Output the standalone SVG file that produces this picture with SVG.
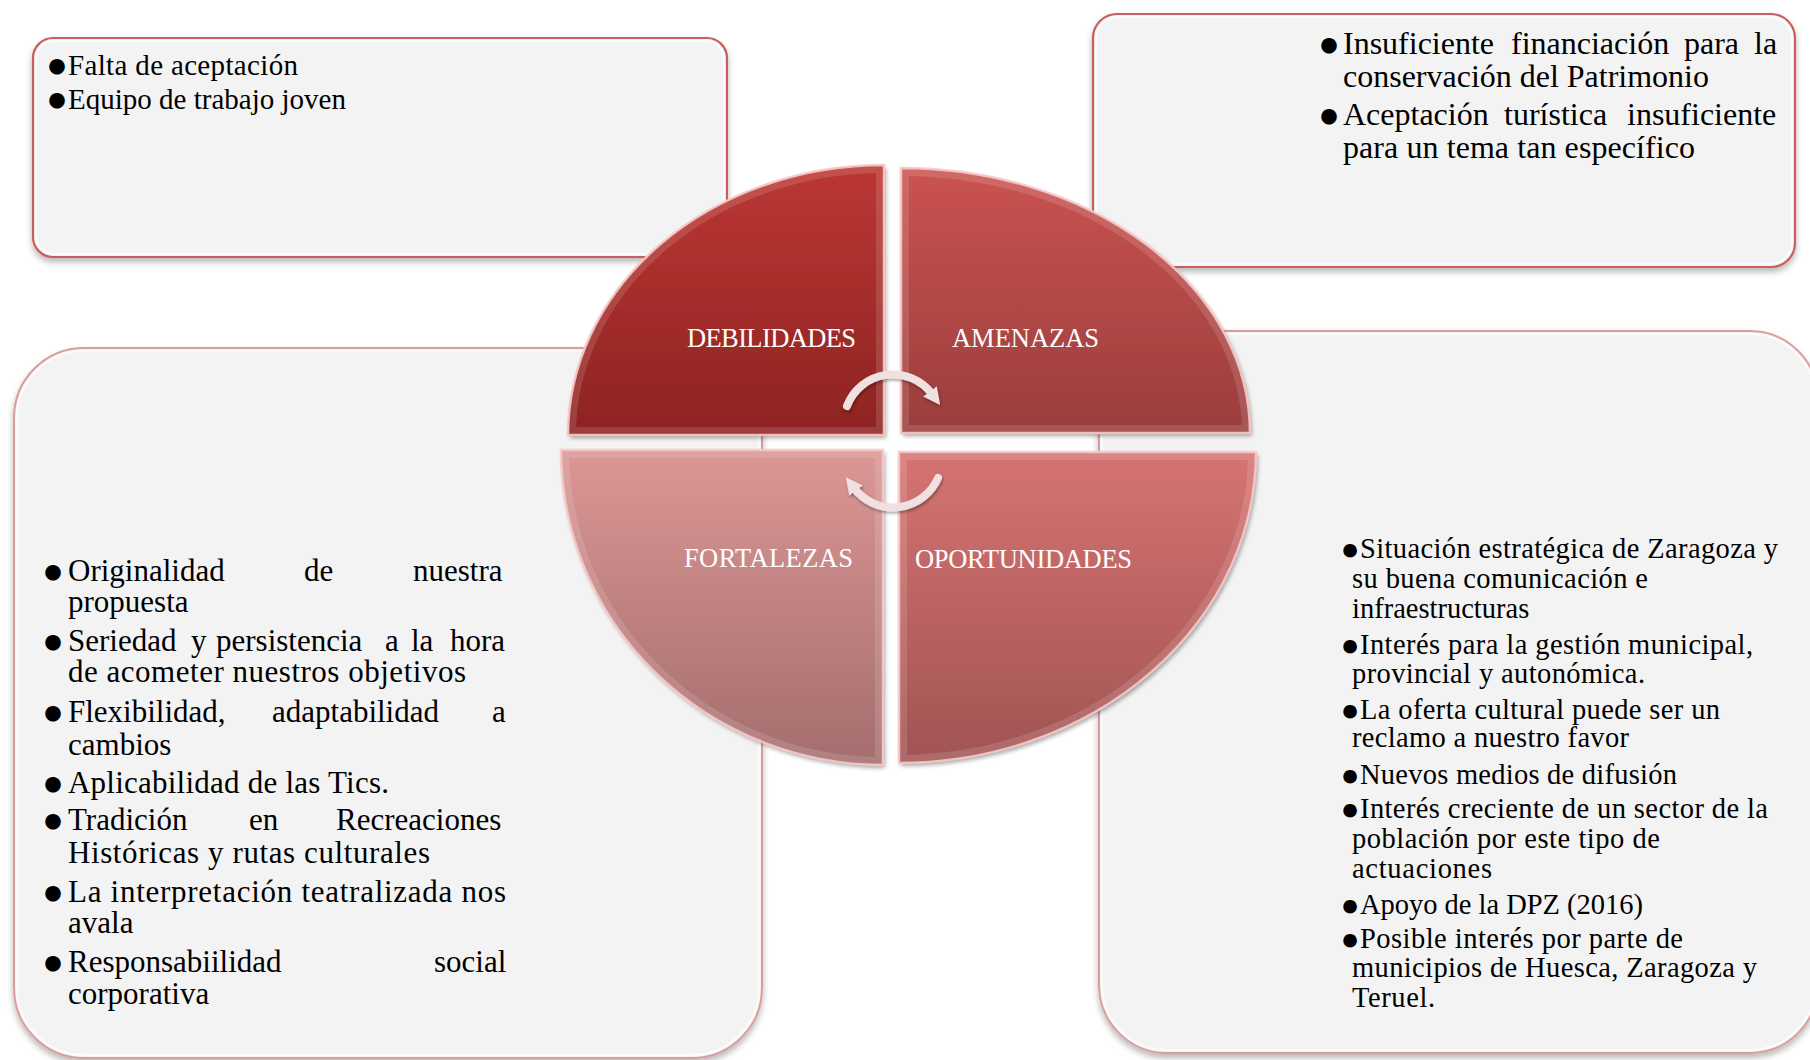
<svg xmlns="http://www.w3.org/2000/svg" width="1810" height="1060" viewBox="0 0 1810 1060">
<defs>
<style>
.t{font-family:"Liberation Serif","Times New Roman",serif;fill:#000;}
.tl{font-size:29px;}
.tr{font-size:32px;}
.bl{font-size:31px;}
.br{font-size:28.5px;}
.bu{font-family:"Liberation Serif","Times New Roman",serif;fill:#000;stroke:#000;stroke-width:3;stroke-linejoin:round;text-anchor:middle;}
.b1{font-size:29px;}
.b2{font-size:26px;stroke-width:2.4;}
.lab{font-family:"Liberation Serif","Times New Roman",serif;font-size:26.5px;fill:#fff;}
.boxA{fill:#f3f3f3;stroke:#c95f5d;stroke-width:2.2;}
.boxB{fill:#f3f3f3;stroke:#dc9c9c;stroke-width:2;}
.hl{fill:none;stroke:#ffffff;stroke-width:1.5;opacity:.9;}
.bev{fill:none;stroke:#fff;stroke-opacity:.13;stroke-width:16;}
.edge{fill:none;stroke:#f7c9c7;stroke-width:2.5;stroke-opacity:.9;}
.arr{fill:none;stroke:#f1e0e0;stroke-width:8;stroke-linecap:round;}
</style>
<filter id="sh" x="-5%" y="-5%" width="110%" height="115%">
<feDropShadow dx="0" dy="4" stdDeviation="3" flood-color="#000" flood-opacity=".28"/>
</filter>
<filter id="qsh" x="-5%" y="-5%" width="112%" height="112%">
<feDropShadow dx="2" dy="3" stdDeviation="2" flood-color="#000" flood-opacity=".35"/>
</filter>
<filter id="ash" x="-20%" y="-20%" width="140%" height="150%">
<feDropShadow dx="1" dy="2" stdDeviation="1.5" flood-color="#000" flood-opacity=".35"/>
</filter>
<linearGradient id="gD" x1="0" y1="0" x2="0" y2="1"><stop offset="0" stop-color="#bb3733"/><stop offset="1" stop-color="#8d2322"/></linearGradient>
<linearGradient id="gA" x1="0" y1="0" x2="0" y2="1"><stop offset="0" stop-color="#ca5351"/><stop offset="1" stop-color="#9a3d3c"/></linearGradient>
<linearGradient id="gF" x1="0" y1="0" x2="0" y2="1"><stop offset="0" stop-color="#db9795"/><stop offset="1" stop-color="#a46d6d"/></linearGradient>
<linearGradient id="gO" x1="0" y1="0" x2="0" y2="1"><stop offset="0" stop-color="#d57472"/><stop offset="1" stop-color="#a15353"/></linearGradient>
<clipPath id="cD"><path d="M884,435 L568,435 A316,270 0 0 1 884,165 Z"/></clipPath>
<clipPath id="cA"><path d="M901,433 L901,168 A349,265 0 0 1 1250,433 Z"/></clipPath>
<clipPath id="cF"><path d="M883,450 L883,765 A322,315 0 0 1 561,450 Z"/></clipPath>
<clipPath id="cO"><path d="M899,452 L1256,452 A357,311 0 0 1 899,763 Z"/></clipPath>
<marker id="ah" viewBox="0 0 10 10" refX="2" refY="5" markerWidth="17" markerHeight="17" markerUnits="userSpaceOnUse" orient="auto">
<path d="M0,0 L10,5 L0,10 Z" fill="#f1e0e0"/>
</marker>
</defs>
<rect width="1810" height="1060" fill="#fff"/>

<g id="box-debilidades">
<rect class="boxA" x="33" y="38" width="694" height="219" rx="20" filter="url(#sh)"/>
<rect class="hl" x="36" y="41" width="688" height="213" rx="18"/>
<text class="bu b1" x="57" y="75">●</text>
<text class="t tl" x="68" y="75" textLength="230">Falta de aceptación</text>
<text class="bu b1" x="57" y="109">●</text>
<text class="t tl" x="68" y="109" textLength="278">Equipo de trabajo joven</text>
</g>

<g id="box-amenazas">
<rect class="boxA" x="1093" y="14" width="702" height="253" rx="24" filter="url(#sh)"/>
<rect class="hl" x="1096" y="17" width="696" height="247" rx="22"/>
<text class="bu b1" x="1329" y="54">●</text>
<text class="t tr" y="54"><tspan x="1343">Insuficiente </tspan><tspan x="1511">financiación </tspan><tspan x="1684">para </tspan><tspan x="1754">la</tspan></text>
<text class="t tr" x="1343" y="87" textLength="366">conservación del Patrimonio</text>
<text class="bu b1" x="1329" y="125">●</text>
<text class="t tr" y="125"><tspan x="1343">Aceptación </tspan><tspan x="1504">turística </tspan><tspan x="1627">insuficiente</tspan></text>
<text class="t tr" x="1343" y="158" textLength="352">para un tema tan específico</text>
</g>

<g id="box-fortalezas">
<rect class="boxB" x="14" y="348" width="748" height="710" rx="70" filter="url(#sh)"/>
<rect class="hl" x="17" y="351" width="742" height="704" rx="67"/>
<g class="bu b1">
<text x="53" y="581">●</text>
<text x="53" y="651">●</text>
<text x="53" y="722">●</text>
<text x="53" y="793">●</text>
<text x="53" y="830">●</text>
<text x="53" y="902">●</text>
<text x="53" y="972">●</text>
</g>
<g class="t bl">
<text y="581"><tspan x="68">Originalidad </tspan><tspan x="304">de </tspan><tspan x="413">nuestra</tspan></text>
<text x="68" y="612">propuesta</text>
<text y="651"><tspan x="68">Seriedad </tspan><tspan x="191">y </tspan><tspan x="216">persistencia </tspan><tspan x="385">a </tspan><tspan x="411">la </tspan><tspan x="450">hora</tspan></text>
<text x="68" y="682" textLength="398">de acometer nuestros objetivos</text>
<text y="722"><tspan x="68">Flexibilidad, </tspan><tspan x="272">adaptabilidad </tspan><tspan x="492">a</tspan></text>
<text x="68" y="755">cambios</text>
<text x="68" y="793" textLength="321">Aplicabilidad de las Tics.</text>
<text y="830"><tspan x="68">Tradición </tspan><tspan x="249">en </tspan><tspan x="336">Recreaciones</tspan></text>
<text x="68" y="863" textLength="362">Históricas y rutas culturales</text>
<text x="68" y="902" textLength="438">La interpretación teatralizada nos</text>
<text x="68" y="933">avala</text>
<text y="972"><tspan x="68">Responsabiilidad </tspan><tspan x="434">social</tspan></text>
<text x="68" y="1004">corporativa</text>
</g>
</g>

<g id="box-oportunidades">
<rect class="boxB" x="1099" y="331" width="719" height="722" rx="68" filter="url(#sh)"/>
<rect class="hl" x="1102" y="334" width="713" height="716" rx="65"/>
<g class="bu b2">
<text x="1350" y="558">●</text>
<text x="1350" y="654">●</text>
<text x="1350" y="719">●</text>
<text x="1350" y="784">●</text>
<text x="1350" y="818">●</text>
<text x="1350" y="914">●</text>
<text x="1350" y="948">●</text>
</g>
<g class="t br">
<text x="1360" y="558" textLength="418">Situación estratégica de Zaragoza y</text>
<text x="1352" y="588" textLength="296">su buena comunicación e</text>
<text x="1352" y="618">infraestructuras</text>
<text x="1360" y="654" textLength="393">Interés para la gestión municipal,</text>
<text x="1352" y="683" textLength="293">provincial y autonómica.</text>
<text x="1360" y="719" textLength="360">La oferta cultural puede ser un</text>
<text x="1352" y="747" textLength="277">reclamo a nuestro favor</text>
<text x="1360" y="784" textLength="317">Nuevos medios de difusión</text>
<text x="1360" y="818" textLength="408">Interés creciente de un sector de la</text>
<text x="1352" y="848" textLength="308">población por este tipo de</text>
<text x="1352" y="878" textLength="140">actuaciones</text>
<text x="1360" y="914" textLength="283">Apoyo de la DPZ (2016)</text>
<text x="1360" y="948" textLength="323">Posible interés por parte de</text>
<text x="1352" y="977" textLength="405">municipios de Huesca, Zaragoza y</text>
<text x="1352" y="1007" textLength="83">Teruel.</text>
</g>
</g>

<g id="quad-debilidades">
<path d="M884,435 L568,435 A316,270 0 0 1 884,165 Z" fill="url(#gD)" filter="url(#qsh)"/>
<path class="bev" clip-path="url(#cD)" d="M884,435 L568,435 A316,270 0 0 1 884,165 Z"/>
<path class="edge" d="M884,435 L568,435 A316,270 0 0 1 884,165 Z"/>
<text class="lab" x="687" y="347" textLength="169">DEBILIDADES</text>
</g>
<g id="quad-amenazas">
<path d="M901,433 L901,168 A349,265 0 0 1 1250,433 Z" fill="url(#gA)" filter="url(#qsh)"/>
<path class="bev" clip-path="url(#cA)" d="M901,433 L901,168 A349,265 0 0 1 1250,433 Z"/>
<path class="edge" d="M901,433 L901,168 A349,265 0 0 1 1250,433 Z"/>
<text class="lab" x="952" y="347" textLength="147">AMENAZAS</text>
</g>
<g id="quad-fortalezas">
<path d="M883,450 L883,765 A322,315 0 0 1 561,450 Z" fill="url(#gF)" filter="url(#qsh)"/>
<path class="bev" clip-path="url(#cF)" d="M883,450 L883,765 A322,315 0 0 1 561,450 Z"/>
<path class="edge" d="M883,450 L883,765 A322,315 0 0 1 561,450 Z"/>
<text class="lab" x="684" y="567" textLength="169">FORTALEZAS</text>
</g>
<g id="quad-oportunidades">
<path d="M899,452 L1256,452 A357,311 0 0 1 899,763 Z" fill="url(#gO)" filter="url(#qsh)"/>
<path class="bev" clip-path="url(#cO)" d="M899,452 L1256,452 A357,311 0 0 1 899,763 Z"/>
<path class="edge" d="M899,452 L1256,452 A357,311 0 0 1 899,763 Z"/>
<text class="lab" x="915" y="568" textLength="217">OPORTUNIDADES</text>
</g>

<g id="connectors" filter="url(#ash)">
<path class="arr" d="M847,406 A49,49 0 0 1 932,394" marker-end="url(#ah)"/>
<path class="arr" d="M938,478 A49,49 0 0 1 854,488" marker-end="url(#ah)"/>
</g>
</svg>
